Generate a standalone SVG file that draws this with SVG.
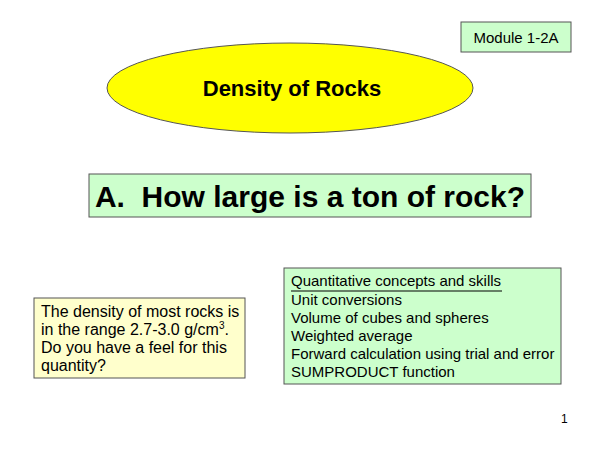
<svg xmlns="http://www.w3.org/2000/svg" width="600" height="450" viewBox="0 0 600 450">
<style>
text{font-family:"Liberation Sans",Arial,sans-serif;fill:#000}
.b{stroke:#555;stroke-width:1}
.t{font-size:15px}
.d{font-size:16px}
</style>
<rect width="600" height="450" fill="#fff"/>
<g id="module"><rect class="b" x="461" y="22" width="110" height="30" fill="#ccffcc"/><text x="516" y="43" font-size="15" text-anchor="middle">Module 1-2A</text></g>
<g id="title-ellipse"><ellipse cx="290" cy="88" rx="183" ry="45" fill="#ffff00" stroke="#555"/><text x="292" y="96" font-size="22" font-weight="bold" text-anchor="middle">Density of Rocks</text></g>
<g id="question"><rect class="b" x="89" y="174" width="442" height="43" fill="#ccffcc"/><text x="310" y="207" font-size="30" font-weight="bold" text-anchor="middle" xml:space="preserve">A.  How large is a ton of rock?</text></g>
<g id="skills"><rect class="b" x="284" y="268" width="277" height="116" fill="#ccffcc"/>
<text x="291" y="286" class="t">Quantitative concepts and skills</text>
<line x1="291" y1="291" x2="502" y2="291" stroke="#000" stroke-width="1"/>
<text x="291" y="305" class="t">Unit conversions</text>
<text x="291" y="323" class="t">Volume of cubes and spheres</text>
<text x="291" y="341" class="t">Weighted average</text>
<text x="291" y="359" class="t">Forward calculation using trial and error</text>
<text x="291" y="377" class="t">SUMPRODUCT function</text></g>
<g id="density"><rect class="b" x="34" y="298" width="211" height="80" fill="#ffffcc"/>
<text x="41" y="317" class="d">The density of most rocks is</text>
<text x="41" y="335" class="d">in the range 2.7-3.0 g/cm<tspan font-size="10" dy="-6">3</tspan><tspan dy="6">.</tspan></text>
<text x="41" y="353" class="d">Do you have a feel for this</text>
<text x="41" y="371" class="d">quantity?</text></g>
<text x="561" y="423" font-size="12">1</text>
</svg>
